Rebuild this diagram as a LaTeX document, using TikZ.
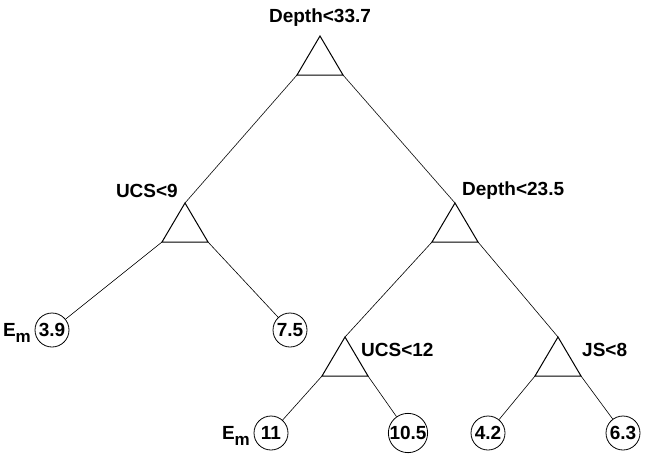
\documentclass[tikz,border=0pt]{standalone}
\usepackage{fontspec}
\setmainfont{Liberation Sans}
\usetikzlibrary{calc}
\tikzset{
  lbl/.style={font=\fontsize{19}{19}\selectfont\bfseries, inner sep=0pt},
  leaf/.style={draw, circle, line width=0.8pt, minimum size=34pt, inner sep=0pt,
               font=\fontsize{19}{19}\selectfont\bfseries},
  tri/.style={line width=1pt, line join=miter},
  edge/.style={line width=0.6pt},
}
% split node: apex name, corners name-l and name-r
\newcommand\splitnode[3]{%
  \coordinate (#1) at (#2,#3);
  \coordinate (#1-l) at ($(#2,#3)+(-23,39)$);
  \coordinate (#1-r) at ($(#2,#3)+(23,39)$);
  \draw[tri] (#1) -- (#1-l) -- (#1-r) -- cycle;
}
\newcommand\emlabel{E\raisebox{-6pt}{\fontsize{17}{17}\selectfont m}}
\begin{document}
\begin{tikzpicture}[x=1pt, y=-1pt]
  \useasboundingbox (0,0) rectangle (651,456);

  % split nodes of the tree
  \splitnode{s1}{320}{36}
  \splitnode{s2}{185}{203}
  \splitnode{s3}{455}{203}
  \splitnode{s4}{345}{337}
  \splitnode{s5}{558}{337}

  % split conditions
  \node[lbl] (l1) at (320,18) {Depth<33.7};
  \node[lbl, anchor=east] (l2) at (178,191) {UCS<9};
  \node[lbl, anchor=west] (l3) at (462,191) {Depth<23.5};
  \node[lbl, anchor=west] (l4) at (361,350) {UCS<12};
  \node[lbl, anchor=west] (l5) at (582,350) {JS<8};

  % leaves
  \node[leaf] (c1) at (52,330) {3.9};
  \node[leaf] (c2) at (290,330) {7.5};
  \node[leaf] (c3) at (271,433) {11};
  \node[leaf] (c4) at (408,433) {10.5};
  \node[leaf] (c5) at (488,433) {4.2};
  \node[leaf] (c6) at (623,433) {6.3};

  \node[lbl, anchor=east] (e1) at (31,333) {\emlabel};
  \node[lbl, anchor=east] (e2) at (250,436) {\emlabel};

  % branches
  \draw[edge] (s1-l) -- (s2);
  \draw[edge] (s1-r) -- (s3);
  \draw[edge] (s2-l) -- (c1);
  \draw[edge] (s2-r) -- (c2);
  \draw[edge] (s3-l) -- (s4);
  \draw[edge] (s3-r) -- (s5);
  \draw[edge] (s4-l) -- (c3);
  \draw[edge] (s4-r) -- (c4);
  \draw[edge] (s5-l) -- (c5);
  \draw[edge] (s5-r) -- (c6);
\end{tikzpicture}
\end{document}
